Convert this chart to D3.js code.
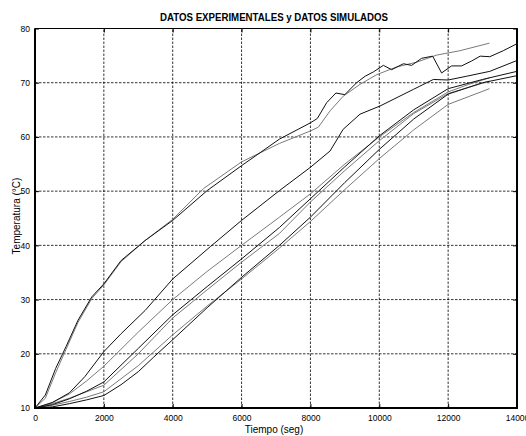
<!DOCTYPE html>
<html>
<head>
<meta charset="utf-8">
<script src="https://cdn.jsdelivr.net/npm/d3@7"></script>
<style>
  html, body { margin: 0; padding: 0; background: #fff; }
  svg { display: block; font-family: "Liberation Sans", Arial, sans-serif; }
  .grid line { stroke: #000; stroke-width: 0.8; stroke-dasharray: 2.5, 1.5; }
  .tick-label { font-size: 8.5px; fill: #000; }
</style>
</head>
<body>
<svg id="chart" width="526" height="436"></svg>
<script>
// ejes
const xTicks = [0, 2000, 4000, 6000, 8000, 10000, 12000, 14000];
const yTicks = [10, 20, 30, 40, 50, 60, 70, 80];

// curvas negras
const tNegra1 = [0, 300, 600, 900, 1250, 1650, 2000, 2500, 3200, 4000, 5000, 6000, 7100, 8000, 8200, 8470, 8740, 9000, 9340, 9590, 9830, 10120, 10360, 10700, 10940, 11230, 11550, 11810, 12100, 12390, 12680, 12930, 13210, 13600, 14000];
const TNegra1 = [10, 12.4, 17.3, 21.3, 26.2, 30.5, 32.9, 37.2, 40.9, 44.6, 50.1, 54.7, 59.6, 62.6, 63.4, 66.3, 68.1, 67.8, 70.0, 71.2, 72.0, 73.2, 72.4, 73.5, 73.2, 74.5, 74.9, 71.8, 73.1, 73.1, 74.0, 74.9, 74.8, 75.9, 77.2];

const tNegra2 = [0, 500, 1000, 1450, 2000, 2500, 3200, 4000, 5100, 6000, 7100, 8000, 8570, 8950, 9440, 10020, 10400, 11000, 11570, 12000, 12540, 13210, 14000];
const TNegra2 = [10, 11.0, 12.8, 15.8, 20.4, 23.7, 28.0, 33.8, 39.8, 44.6, 50.1, 54.4, 57.4, 61.4, 64.2, 65.7, 66.9, 68.8, 70.6, 70.5, 71.2, 72.1, 74.1];

const tNegra3 = [0, 500, 1000, 1500, 2000, 3000, 4000, 5000, 6000, 7100, 8000, 9000, 10000, 11000, 12000, 13000, 14000];
const TNegra3 = [10, 10.6, 11.7, 13.1, 14.8, 21.0, 27.2, 32.4, 37.5, 43.3, 48.6, 54.5, 60.2, 65.0, 68.9, 70.6, 72.1];

const tNegra4 = [0, 500, 1000, 1500, 2000, 2500, 3000, 3450, 4000, 5000, 6000, 7100, 8000, 9000, 10000, 11000, 12000, 13000, 14000];
const TNegra4 = [10, 10.2, 10.8, 11.5, 12.3, 14.3, 16.7, 19.4, 22.6, 28.5, 34.1, 40.0, 45.2, 51.6, 57.7, 63.3, 67.9, 70.0, 71.3];

// curvas grises
const tGris1 = [0, 300, 600, 900, 1250, 1650, 2000, 2500, 3200, 4000, 4900, 6000, 7100, 8000, 8230, 8570, 8950, 9440, 9930, 10500, 11090, 11670, 12340, 13200];
const TGris1 = [10, 11.8, 16.5, 20.8, 25.8, 30.2, 32.7, 37.0, 40.9, 44.8, 50.5, 55.4, 58.8, 61.1, 61.8, 64.8, 67.5, 69.7, 71.5, 72.9, 73.8, 75.1, 75.9, 77.3];

const tGris2 = [0, 500, 1000, 1500, 2000, 3000, 4000, 5000, 6000, 7100, 8000, 9000, 10000, 11000, 12000, 12600, 13200];
const TGris2 = [10, 11.0, 12.6, 15.0, 17.7, 24.0, 30.0, 35.2, 40.0, 45.2, 49.5, 55.0, 60.0, 64.5, 68.3, 69.7, 70.9];

const tGris3 = [0, 500, 1000, 1500, 2000, 3000, 4000, 5000, 6000, 7100, 8000, 9000, 10000, 11000, 12000, 13200];
const TGris3 = [10, 10.8, 11.8, 13.0, 14.2, 20.0, 26.6, 31.8, 36.9, 42.2, 48.0, 53.8, 59.3, 64.3, 68.0, 70.3];

const tGris4 = [0, 500, 1000, 1500, 2000, 3000, 4000, 5000, 6000, 7100, 8000, 9000, 10000, 11000, 12000, 13200];
const TGris4 = [10, 10.5, 11.2, 12.0, 13.0, 17.8, 23.5, 28.8, 33.8, 39.5, 44.4, 50.3, 56.0, 61.3, 66.0, 68.9];

const curvas = [
  { t: tGris1, T: TGris1, color: "#7a7a7a" },
  { t: tGris2, T: TGris2, color: "#7a7a7a" },
  { t: tGris3, T: TGris3, color: "#7a7a7a" },
  { t: tGris4, T: TGris4, color: "#7a7a7a" },
  { t: tNegra1, T: TNegra1, color: "#111" },
  { t: tNegra2, T: TNegra2, color: "#111" },
  { t: tNegra3, T: TNegra3, color: "#111" },
  { t: tNegra4, T: TNegra4, color: "#111" },
];

const margin = { left: 35, right: 9, top: 28.5, bottom: 28 };
const width = 526, height = 436;

const svg = d3.select("#chart");

const x = d3.scaleLinear().domain([0, 14000]).range([margin.left, width - margin.right]);
const y = d3.scaleLinear().domain([10, 80]).range([height - margin.bottom, margin.top]);

// rejilla
const grid = svg.append("g").attr("class", "grid");
grid.selectAll("line.v")
  .data(xTicks.slice(1, -1))
  .join("line")
  .attr("x1", (d) => x(d)).attr("x2", (d) => x(d))
  .attr("y1", y(10)).attr("y2", y(80));
grid.selectAll("line.h")
  .data(yTicks.slice(1, -1))
  .join("line")
  .attr("class", "h")
  .attr("x1", x(0)).attr("x2", x(14000))
  .attr("y1", (d) => y(d)).attr("y2", (d) => y(d));

// curvas
const line = d3.line().x((d) => x(d[0])).y((d) => y(d[1]));
svg.append("g")
  .selectAll("path")
  .data(curvas)
  .join("path")
  .attr("fill", "none")
  .attr("stroke", (d) => d.color)
  .attr("stroke-width", 1)
  .attr("d", (d) => line(d.t.map((t, i) => [t, d.T[i]])));

// marco
svg.append("rect")
  .attr("x", x(0)).attr("y", y(80))
  .attr("width", x(14000) - x(0)).attr("height", y(10) - y(80))
  .attr("fill", "none").attr("stroke", "#000").attr("stroke-width", 1);
svg.append("path")
  .attr("d", `M${x(0)},${y(80)}V${y(10)}H${x(14000)}V${y(80)}`)
  .attr("fill", "none").attr("stroke", "#000").attr("stroke-width", 2);

// ejes con marcas hacia dentro
const axisB = d3.axisBottom(x).tickValues(xTicks).tickSize(-4).tickPadding(7).tickFormat(d3.format("d"));
const axisL = d3.axisLeft(y).tickValues(yTicks).tickSize(-4).tickPadding(5).tickFormat(d3.format("d"));
const axisT = d3.axisTop(x).tickValues(xTicks).tickSize(-4).tickFormat("");
const axisR = d3.axisRight(y).tickValues(yTicks).tickSize(-4).tickFormat("");

function styleAxis(g) {
  g.select(".domain").remove();
  g.selectAll(".tick line").attr("stroke", "#000");
  g.selectAll(".tick text").attr("class", "tick-label").attr("font-family", null).attr("font-size", null);
}
svg.append("g").attr("transform", `translate(0,${y(10)})`).call(axisB).call(styleAxis);
svg.append("g").attr("transform", `translate(${x(0)},0)`).call(axisL).call(styleAxis);
svg.append("g").attr("transform", `translate(0,${y(80)})`).call(axisT).call(styleAxis);
svg.append("g").attr("transform", `translate(${x(14000)},0)`).call(axisR).call(styleAxis);

// textos
svg.append("text")
  .attr("x", 274).attr("y", 20.5)
  .attr("text-anchor", "middle")
  .attr("font-size", "10.5px").attr("font-weight", "bold")
  .attr("textLength", 228).attr("lengthAdjust", "spacingAndGlyphs")
  .text("DATOS EXPERIMENTALES y DATOS SIMULADOS");

svg.append("text")
  .attr("x", 274).attr("y", 433)
  .attr("text-anchor", "middle")
  .attr("font-size", "10px")
  .text("Tiempo (seg)");

svg.append("text")
  .attr("transform", `translate(20,216) rotate(-90)`)
  .attr("text-anchor", "middle")
  .attr("font-size", "10px")
  .text("Temperatura (°C)");
</script>
</body>
</html>
